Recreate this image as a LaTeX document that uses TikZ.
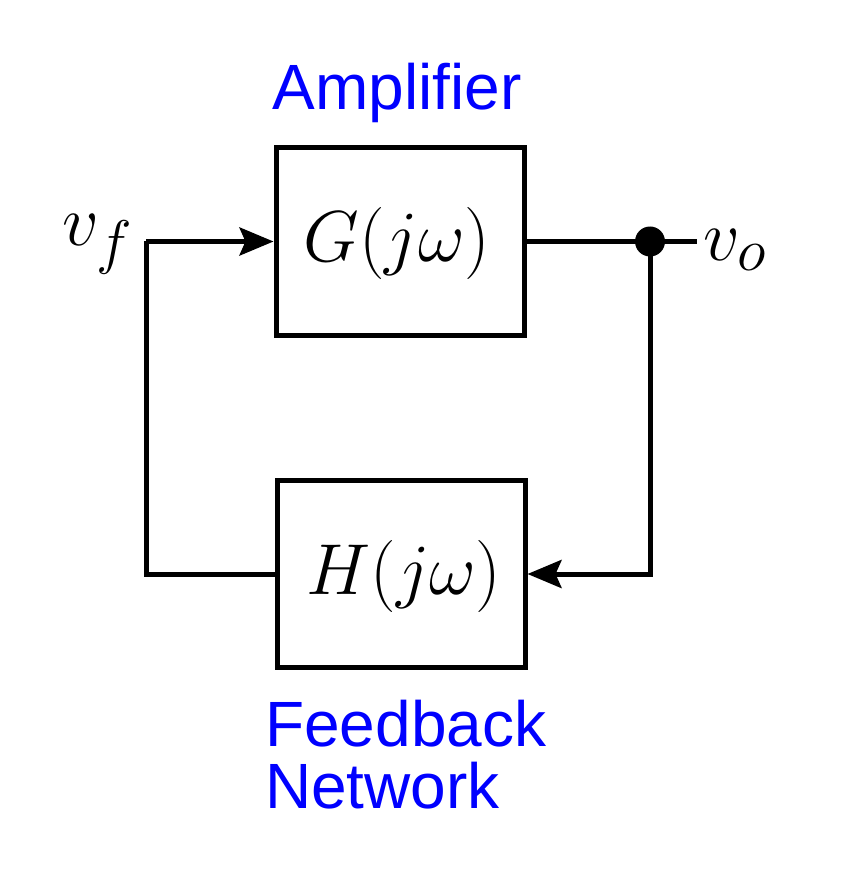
\documentclass[tikz,border=0pt]{standalone}
\usepackage{graphicx}
\usepackage{fontspec}
\newfontfamily\labelfont{Liberation Sans}
\usetikzlibrary{arrows.meta}
\newcommand{\bigmath}[1]{\scalebox{2.9}{\Huge$#1$}}
\begin{document}
\begin{tikzpicture}[x=1pt,y=-1pt,
  blockbox/.style={draw,line width=5pt,minimum width=248pt,minimum height=187pt,inner sep=0pt},
  wire/.style={line width=5pt},
  tip/.style={-{Stealth[length=34pt,width=28pt,inset=6pt]}},
  bluelabel/.style={text=blue,font=\labelfont\fontsize{64}{62}\selectfont,inner sep=0pt,align=left},
  mathlabel/.style={inner sep=0pt}]
\useasboundingbox[fill=white] (0,0) rectangle (840,874);
\node[blockbox] (G) at (400,241.5) {};
\node[blockbox] (H) at (401,574) {};
\node[mathlabel] (Gt) at (397,243) {\bigmath{G(j\omega)}};
\node[mathlabel] (Ht) at (404,576) {\bigmath{H(j\omega)}};
\node[bluelabel,anchor=base] (amp) at (397,110) {Amplifier};
\node[bluelabel,anchor=north west] (fb) at (265,700) {Feedback\\Network};
\coordinate (in) at (146,241.5);
\coordinate (out) at (697,241.5);
\coordinate (tap) at (650,241.5);
\coordinate (ret) at (650,574);
\node[mathlabel,anchor=east] (vf) at (134,244) {\bigmath{v_f}};
\node[mathlabel,anchor=west] (vo) at (703,250) {\bigmath{v_o}};
\draw[wire,tip] (in) -- (G.west);
\draw[wire] (G.east) -- (out);
\draw[wire,tip] (tap) -- (ret) -- (H.east);
\draw[wire,line join=miter] (H.west) -- (in |- H.west) -- (in);
\fill (tap) circle (15pt);
\end{tikzpicture}
\end{document}
